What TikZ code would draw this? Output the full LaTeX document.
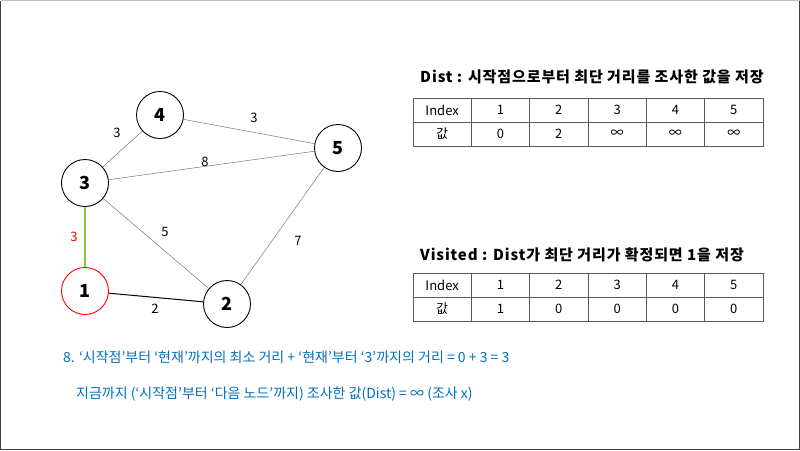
\documentclass[tikz,border=0pt]{standalone}
\usepackage{fontspec}
\setmainfont{Noto Sans CJK KR}
\definecolor{edgegray}{RGB}{120,120,120}
\definecolor{hlgreen}{RGB}{140,198,63}
\definecolor{txtblue}{RGB}{0,112,192}
\definecolor{tblline}{RGB}{90,90,90}
\begin{document}
\begin{tikzpicture}[x=1pt,y=-1pt,
  vertex/.style={circle,draw=black,line width=0.9pt,minimum size=47pt,inner sep=0pt,fill=white,font=\bfseries\fontsize{18}{18}\selectfont},
  startv/.style={vertex,draw=red},
  thinedge/.style={draw=edgegray,line width=0.5pt},
  darkedge/.style={draw=black,line width=1pt},
  greenedge/.style={draw=hlgreen,line width=2.4pt},
  elabel/.style={font=\fontsize{13}{13}\selectfont,inner sep=0pt},
  title/.style={font=\bfseries\fontsize{15}{15}\selectfont\addfontfeature{LetterSpace=6},anchor=west,inner sep=0pt},
  cell/.style={draw=tblline,line width=0.8pt,minimum width=58.33pt,minimum height=24pt,inner sep=0pt,font=\fontsize{13}{13}\selectfont},
  bluetext/.style={font=\fontsize{14}{14}\selectfont,text=txtblue,anchor=west,inner sep=0pt}
]
\useasboundingbox (0,0) rectangle (800,450);
\draw[draw=black!75,line width=1pt] (0.5,450) -- (0.5,0.5);
\draw[draw=black!25,line width=1pt] (0.5,0.5) -- (799.5,0.5);
\draw[draw=black!75,line width=1pt] (799.5,0.5) -- (799.5,449.5) -- (0.5,449.5);

% vertices
\node[vertex] (n4) at (160,115) {4};
\node[vertex] (n5) at (338,148) {5};
\node[vertex] (n3) at (85,183) {3};
\node[startv] (n1) at (85,291) {1};
\node[vertex] (n2) at (227,304) {2};

% edges
\draw[thinedge] (n3) -- (n4);
\draw[thinedge] (n4) -- (n5);
\draw[thinedge] (n3) -- (n5);
\draw[thinedge] (n3) -- (n2);
\draw[thinedge] (n5) -- (n2);
\draw[darkedge] (n1) -- (n2);
\draw[greenedge] (n3) -- (n1);

% edge labels
\node[elabel] (l34) at (117,133) {3};
\node[elabel] (l45) at (254,118) {3};
\node[elabel] (l35) at (205,162) {8};
\node[elabel] (l32) at (165,232) {5};
\node[elabel] (l52) at (298,241) {7};
\node[elabel,text=red] (l31) at (74,237) {3};
\node[elabel] (l12) at (155,309) {2};

% Dist table
\node[title] (dtitle) at (420,77) {Dist : 시작점으로부터 최단 거리를 조사한 값을 저장};
\foreach \i/\a/\b in {0/Index/값,1/1/0,2/2/2,3/3/∞,4/4/∞,5/5/∞}{
  \node[cell] (dA\i) at ({413+58.33*\i+29.17},110) {\a};
  \node[cell] (dB\i) at ({413+58.33*\i+29.17},134) {\b};
}
% Visited table
\node[title] (vtitle) at (420,255) {Visited : Dist가 최단 거리가 확정되면 1을 저장};
\foreach \i/\a/\b in {0/Index/값,1/1/1,2/2/0,3/3/0,4/4/0,5/5/0}{
  \node[cell] (vA\i) at ({413+58.33*\i+29.17},285) {\a};
  \node[cell] (vB\i) at ({413+58.33*\i+29.17},309) {\b};
}

% bottom texts
\node[bluetext] (t1) at (63,357) {8. ‘시작점’부터 ‘현재’까지의 최소 거리 + ‘현재’부터 ‘3’까지의 거리 = 0 + 3 = 3};
\node[bluetext] (t2) at (76,394) {지금까지 (‘시작점’부터 ‘다음 노드’까지) 조사한 값(Dist) = ∞ (조사 x)};
\end{tikzpicture}
\end{document}
